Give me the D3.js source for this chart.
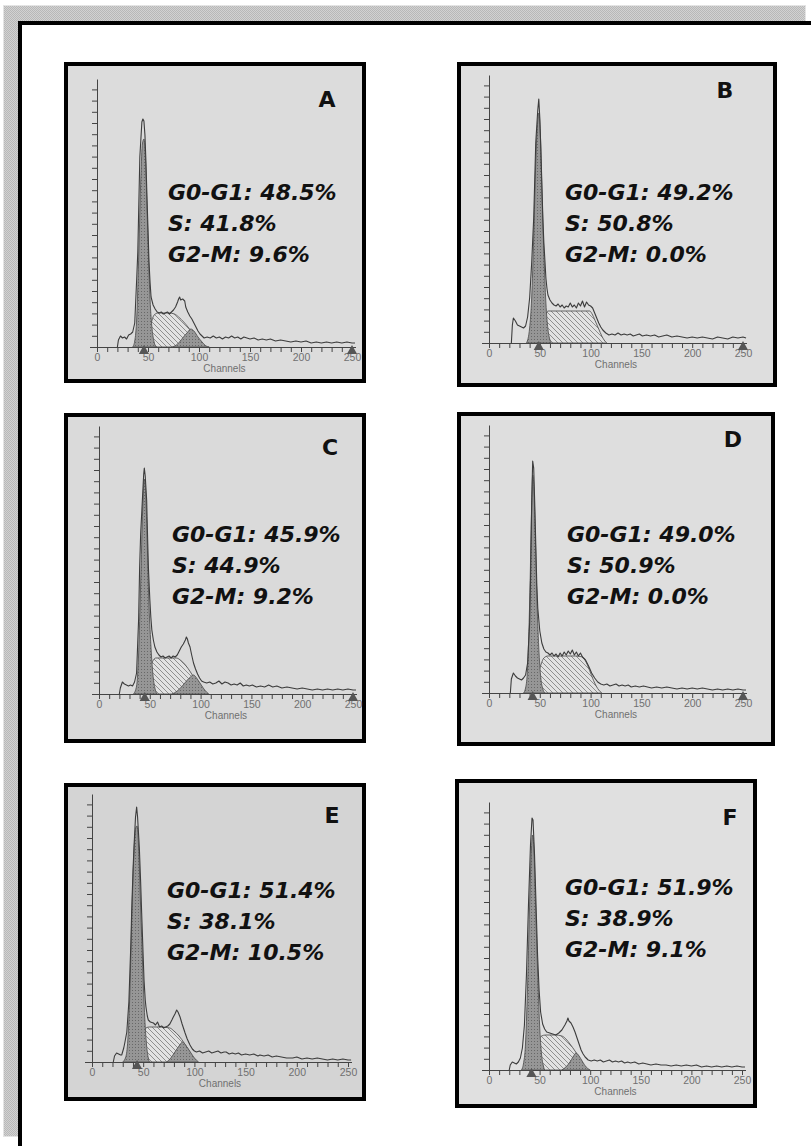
<!DOCTYPE html>
<html>
<head>
<meta charset="utf-8">
<script src="https://cdn.jsdelivr.net/npm/d3@7"></script>
<style>
  body { margin: 0; background: #fff; }
  svg { display: block; }
</style>
</head>
<body>
<svg id="page" width="811" height="1146"></svg>
<script>
// panel letters and the cell-cycle percentages printed on each histogram
const panelNames = ["A", "B", "C", "D", "E", "F"];
const g0g1Pct = ["48.5", "49.2", "45.9", "49.0", "51.4", "51.9"];
const sPct = ["41.8", "50.8", "44.9", "50.9", "38.1", "38.9"];
const g2mPct = ["9.6", "0.0", "9.2", "0.0", "10.5", "9.1"];
const xTickLabels = [0, 50, 100, 150, 200, 250];

// histogram traces: [channel, count]
const histA = [[20,0],[21,7],[23,11],[25,9],[27,10],[29,8],[31,12],[33,13],[35,15],[37,24],[39,70],[40,95],[42,190],[44,225],[45,228],[46,226],[47,212],[48,185],[49,150],[50,118],[51,85],[52,65],[53,50],[55,42],[57,38],[59,35],[61,34],[63,35],[65,33],[67,34],[69,35],[71,33],[73,35],[75,37],[77,40],[79,45],[80,48],[81,50],[82,47],[84,48],[86,46],[87,40],[89,35],[91,31],[93,28],[95,24],[97,20],[99,16],[101,13],[103,11],[105,9],[108,10],[111,9],[114,11],[117,9],[120,10],[123,8],[126,10],[129,9],[132,11],[135,9],[138,10],[141,8],[144,10],[147,9],[150,8],[154,9],[158,7],[162,8],[166,7],[170,8],[175,6],[180,7],[185,6],[190,5],[195,6],[200,5],[205,6],[210,4],[215,5],[220,4],[225,5],[230,4],[235,5],[240,4],[245,5],[250,4],[253,4]];
const g1A = [[35,0],[37,6],[39,30],[41,95],[43,170],[44.5,203],[46,208],[47.5,188],[49,140],[50.5,90],[52,48],[54,18],[56,5],[58,0]];
const sA = [[48,0],[50,8],[52,18],[54,27],[56,32],[60,34],[70,34],[76,33],[80,30],[85,25],[90,19],[95,12],[100,6],[104,2],[107,0]];
const g2A = [[74,0],[79,3],[84,9],[89,15],[92,18],[95,16],[99,10],[103,5],[107,1],[110,0]];

const histB = [[22,0],[23,18],[24,25],[26,22],[28,18],[30,17],[32,16],[34,15],[36,17],[38,26],[40,45],[42,80],[44,125],[46,200],[48,233],[49,244],[50,225],[51,195],[52,160],[53,125],[54,100],[55,83],[56,65],[57,55],[58,48],[60,43],[62,40],[64,38],[66,37],[68,39],[70,36],[72,38],[74,35],[76,37],[78,36],[80,40],[82,36],[84,38],[86,35],[88,40],[90,37],[92,42],[94,36],[96,41],[98,38],[100,37],[102,35],[104,30],[106,25],[108,20],[110,16],[112,13],[115,10],[118,8],[121,9],[124,8],[127,10],[130,8],[133,9],[136,8],[139,9],[142,7],[145,8],[148,9],[151,7],[155,8],[159,7],[163,8],[167,6],[171,7],[175,8],[180,6],[185,7],[190,6],[195,5],[200,6],[205,5],[210,6],[215,5],[220,4],[225,6],[230,5],[235,4],[240,6],[245,5],[250,6],[253,5]];
const g1B = [[37,0],[40,15],[42,45],[44,105],[46,180],[48,222],[49,230],[50.5,210],[52,155],[54,90],[56,40],[58,14],[60,3],[61,0]];
const sB = [[44,0],[47,6],[50,14],[53,22],[56,29],[58,32],[70,32],[90,32],[99,32],[102,28],[105,21],[108,14],[111,7],[114,2],[116,0]];
const g2B = [];

const histC = [[20,0],[21,6],[23,12],[25,10],[27,9],[29,8],[31,9],[33,8],[35,12],[37,21],[39,75],[40,127],[41,160],[42.7,194],[44,220],[44.6,226],[45.5,218],[46.9,194],[48,150],[48.6,127],[50,95],[51,77],[52,64],[53.5,54],[55,47],[57,42],[59,39],[61,37],[63,38],[65,36],[67,37],[69,38],[71,36],[73,38],[75,37],[77,39],[79,43],[81,47],[83,50],[85,54],[86,57],[87,55],[88,51],[89.6,47],[91,40],[93,31],[95,25],[97,20],[99,16],[101,13],[103,12],[106,11],[109,12],[112,10],[115,11],[118,13],[121,10],[124,12],[127,11],[130,9],[133,10],[136,9],[139,11],[142,8],[145,9],[148,8],[151,9],[155,7],[159,8],[163,7],[167,9],[171,7],[175,8],[180,6],[185,7],[190,6],[195,5],[200,6],[205,5],[210,4],[215,5],[220,4],[225,5],[230,4],[235,5],[240,4],[245,5],[250,4],[253,4]];
const g1C = [[34,0],[37,8],[39,40],[41,110],[43,185],[44.6,215],[46,200],[47.5,150],[49,95],[51,50],[53,20],[55,6],[57,0]];
const sC = [[45,0],[47,8],[49,18],[51,27],[53.5,34],[56,36],[66,36],[76,36],[80,34],[85,29],[90,22],[95,14],[100,7],[104,2],[106,0]];
const g2C = [[72,0],[77,3],[82,8],[87,14],[90,17],[93,19],[96,16],[100,10],[104,4],[108,0]];

const histD = [[21,0],[22,14],[24,20],[26,17],[28,15],[30,14],[32,13],[34,15],[36,18],[38,30],[40,70],[41,120],[42,190],[43,232],[44,225],[45,190],[46,150],[47,110],[48,85],[50,62],[52,50],[54,44],[56,41],[58,40],[60,38],[62,40],[64,37],[66,39],[68,36],[70,40],[72,37],[74,41],[76,38],[78,42],[80,39],[82,43],[84,38],[86,41],[88,37],[90,40],[92,36],[95,33],[98,27],[101,20],[104,15],[107,11],[110,9],[113,8],[116,9],[119,7],[122,8],[125,9],[128,7],[131,8],[134,7],[137,8],[140,6],[144,7],[148,6],[152,7],[156,6],[160,5],[165,6],[170,5],[175,6],[180,5],[185,4],[190,5],[195,4],[200,5],[205,4],[210,5],[215,4],[220,3],[225,4],[230,3],[235,4],[240,3],[245,4],[250,3],[253,3]];
const g1D = [[34,0],[36,5],[38,25],[40,90],[42,185],[43,218],[44,210],[45.5,160],[47,100],[49,45],[51,15],[53,4],[55,0]];
const sD = [[42,0],[45,8],[48,18],[51,28],[54,35],[58,37],[70,37],[85,37],[92,36],[96,30],[100,20],[104,10],[108,3],[111,0]];
const g2D = [];

const histE = [[20.8,0],[22,6],[24,9],[26,8],[28,7],[29,7],[31,14],[32,19],[34,30],[36,60],[38,120],[38.7,149],[40,190],[41,215],[42.5,245],[43.6,255],[44.5,245],[46.2,215],[47.5,180],[48.5,149],[50,105],[50.8,82],[52,62],[52.7,55],[54,46],[55,42],[57,40],[60,39],[62,37],[64,40],[66,35],[68,36],[70,34],[72,35],[74,36],[76,38],[78,42],[79.4,45],[81,48],[82.7,52],[84,50],[86,45],[88,38],[90.9,29],[93,23],[95.7,17],[98,13],[100,11],[102,10],[105,11],[108,9],[111,10],[114,11],[117,9],[120,10],[123,11],[126,9],[129,10],[131,10],[134,8],[137,9],[140,8],[143,9],[146,7],[150,8],[154,7],[158,8],[162,6],[164,7],[168,6],[172,7],[176,5],[180,6],[185,5],[190,4],[196,4],[200,5],[205,3],[210,4],[215,3],[220,4],[225,3],[230,2],[235,3],[240,2],[245,3],[250,2],[253,2]];
const g1E = [[30,0],[33,5],[35,22],[37,70],[39,150],[41,210],[43,235],[44,236],[45.5,215],[47,170],[49,110],[51,55],[53,20],[55,4],[56,0]];
const sE = [[42,0],[44,6],[46,13],[48,21],[50,28],[52.7,34],[56,35],[66,35],[76,34],[80,31],[85,26],[90,19],[95,11],[99,4],[102,0]];
const g2E = [[73,0],[77,4],[81,10],[85,16],[88.5,20],[92,16],[96,10],[100,4],[104,0]];

const histF = [[20,0],[21,5],[23,8],[25,7],[27,6],[29,8],[31,12],[33,22],[35,45],[37,95],[39,165],[41,225],[42.5,252],[43.5,250],[45,215],[46.5,165],[48,115],[49.5,80],[51,58],[53,46],[55,41],[57,38],[60,37],[63,36],[66,35],[69,37],[72,40],[75,45],[77,49],[78,52],[79,49],[81,47],[83,43],[85,38],[87,32],[89,26],[91,20],[93,16],[95,13],[98,10],[101,9],[104,10],[107,9],[110,10],[113,8],[116,9],[119,10],[122,8],[125,9],[128,8],[131,9],[134,7],[137,8],[140,7],[144,8],[148,6],[152,7],[156,6],[160,5],[165,6],[170,5],[175,5],[180,4],[185,5],[190,4],[195,5],[200,4],[205,5],[210,3],[215,4],[220,3],[225,4],[230,3],[235,4],[240,3],[245,4],[250,3],[253,3]];
const g1F = [[32,0],[34,6],[36,25],[38,80],[40,160],[42,222],[43,235],[44.5,218],[46,165],[48,100],[50,45],[52,15],[54,3],[55,0]];
const sF = [[41,0],[43,6],[45,14],[47,22],[49,29],[52,34],[56,35],[66,35],[72,34],[76,31],[80,26],[85,19],[90,11],[94,4],[97,0]];
const g2F = [[72,0],[76,3],[80,8],[83,13],[86,17],[89,14],[92,9],[96,3],[100,0]];

const histData = [histA, histB, histC, histD, histE, histF];
const g1Data = [g1A, g1B, g1C, g1D, g1E, g1F];
const sData = [sA, sB, sC, sD, sE, sF];
const g2Data = [g2A, g2B, g2C, g2D, g2E, g2F];
// triangle markers on the channel axis
const markers = [[46, 250], [49, 250], [45, 250], [43, 250], [44], [42]];

// panel boxes and plot frames (page pixels)
const boxes = [
  { x: 64, y: 62, w: 302, h: 321, x0: 97, x1: 352, base: 347, bg: "#dcdcdc", lx: 327, ly: 107, tx: 168, ty: 200 },
  { x: 457, y: 62, w: 320, h: 325, x0: 489, x1: 743, base: 343, bg: "#dedede", lx: 725, ly: 98, tx: 565, ty: 200 },
  { x: 64, y: 413, w: 302, h: 330, x0: 99, x1: 353, base: 694, bg: "#dadada", lx: 330, ly: 455, tx: 172, ty: 542 },
  { x: 457, y: 412, w: 318, h: 334, x0: 489, x1: 743, base: 693, bg: "#dedede", lx: 733, ly: 447, tx: 567, ty: 542 },
  { x: 64, y: 783, w: 302, h: 318, x0: 92, x1: 348, base: 1062, bg: "#d4d4d4", lx: 332, ly: 823, tx: 167, ty: 898 },
  { x: 455, y: 779, w: 302, h: 329, x0: 489, x1: 742, base: 1070, bg: "#e0e0e0", lx: 730, ly: 825, tx: 565, ty: 895 }
];

const svg = d3.select("#page");
const defs = svg.append("defs");

// checkered gray band of the page frame
const chk = defs.append("pattern").attr("id", "chk").attr("patternUnits", "userSpaceOnUse")
  .attr("width", 2).attr("height", 2);
chk.append("rect").attr("width", 2).attr("height", 2).attr("fill", "#d2d2d2");
chk.append("rect").attr("width", 1).attr("height", 1).attr("fill", "#b8b8b8");
chk.append("rect").attr("x", 1).attr("y", 1).attr("width", 1).attr("height", 1).attr("fill", "#b8b8b8");

const hatch = defs.append("pattern").attr("id", "hatch").attr("patternUnits", "userSpaceOnUse")
  .attr("width", 5).attr("height", 5);
hatch.append("rect").attr("width", 5).attr("height", 5).attr("fill", "#e2e2e2");
hatch.append("path").attr("d", "M0,0L5,5M-1,4L1,6M4,-1L6,1")
  .attr("stroke", "#6a6a6a").attr("stroke-width", 0.7);

const dots = defs.append("pattern").attr("id", "dots").attr("patternUnits", "userSpaceOnUse")
  .attr("width", 3).attr("height", 3);
dots.append("rect").attr("width", 3).attr("height", 3).attr("fill", "#969696");
dots.append("rect").attr("width", 1).attr("height", 1).attr("fill", "#686868");

// page frame
svg.append("rect").attr("x", 3.5).attr("y", 5.5).attr("width", 802).attr("height", 1131)
  .attr("fill", "url(#chk)").attr("stroke", "#e4e4e4");
svg.append("rect").attr("x", 20).attr("y", 23).attr("width", 800).attr("height", 1140)
  .attr("fill", "#fff").attr("stroke", "#000").attr("stroke-width", 4);

const yTicks = d3.range(0, 268, 11.2);

panelNames.forEach((name, i) => {
  const b = boxes[i];
  const g = svg.append("g");

  g.append("rect").attr("x", b.x + 2).attr("y", b.y + 2).attr("width", b.w - 4).attr("height", b.h - 4)
    .attr("fill", b.bg).attr("stroke", "#000").attr("stroke-width", 4);

  const x = d3.scaleLinear().domain([0, 250]).range([b.x0, b.x1]);
  const y = d3.scaleLinear().domain([0, 268]).range([b.base, b.base - 268]);

  const area = d3.area().x(d => x(d[0])).y0(y(0)).y1(d => y(d[1])).curve(d3.curveMonotoneX);
  const line = d3.line().x(d => x(d[0])).y(d => y(d[1]));

  // model components
  g.append("path").datum(sData[i]).attr("d", area).attr("fill", "url(#hatch)")
    .attr("stroke", "#555").attr("stroke-width", 0.9);
  if (g2Data[i].length) {
    g.append("path").datum(g2Data[i]).attr("d", area).attr("fill", "url(#dots)")
      .attr("stroke", "#555").attr("stroke-width", 0.9);
  }
  g.append("path").datum(g1Data[i]).attr("d", area).attr("fill", "url(#dots)")
    .attr("stroke", "#555").attr("stroke-width", 0.9);

  // measured histogram
  g.append("path").datum(histData[i]).attr("d", line).attr("fill", "none")
    .attr("stroke", "#3c3c3c").attr("stroke-width", 1.1).attr("stroke-linejoin", "round");

  // y axis (ticks only)
  const ya = g.append("g").attr("transform", `translate(${b.x0},0)`)
    .call(d3.axisLeft(y).tickValues(yTicks).tickSize(5).tickSizeOuter(0).tickFormat(""));
  ya.selectAll("path,line").attr("stroke", "#444");

  // x axis
  const xa = g.append("g").attr("transform", `translate(0,${b.base})`)
    .call(d3.axisBottom(x).tickValues(d3.range(0, 251, 10)).tickSize(5).tickSizeOuter(0)
      .tickFormat(d => xTickLabels.includes(d) ? d : ""));
  xa.select(".domain").attr("d", `M${b.x0 - 7},0.5H${b.x1 + 4}`);
  xa.selectAll("path,line").attr("stroke", "#444");
  xa.selectAll("text").attr("fill", "#707070").attr("font-family", "Liberation Sans, Arial, sans-serif")
    .attr("font-size", 10.5).attr("dy", "0.55em");
  g.append("text").attr("x", x(125)).attr("y", b.base + 25).attr("text-anchor", "middle")
    .attr("font-family", "Liberation Sans, Arial, sans-serif").attr("font-size", 10)
    .attr("fill", "#707070").text("Channels");

  // triangle markers
  g.selectAll(".mk").data(markers[i]).join("path")
    .attr("transform", d => `translate(${x(d)},${b.base + 4})`)
    .attr("d", d3.symbol(d3.symbolTriangle, 45)).attr("fill", "#555");

  // panel letter
  g.append("text").attr("x", b.lx).attr("y", b.ly).attr("text-anchor", "middle")
    .attr("font-family", "DejaVu Sans, sans-serif").attr("font-weight", "bold").attr("font-size", 22)
    .attr("fill", "#111").text(name);

  // phase percentages
  const lines = [`G0-G1: ${g0g1Pct[i]}%`, `S: ${sPct[i]}%`, `G2-M: ${g2mPct[i]}%`];
  g.selectAll(".pct").data(lines).join("text")
    .attr("x", b.tx).attr("y", (d, k) => b.ty + k * 31)
    .attr("font-family", "DejaVu Sans, sans-serif").attr("font-weight", "bold")
    .attr("font-style", "italic").attr("font-size", 22).attr("fill", "#111")
    .text(d => d);
});
</script>
</body>
</html>
